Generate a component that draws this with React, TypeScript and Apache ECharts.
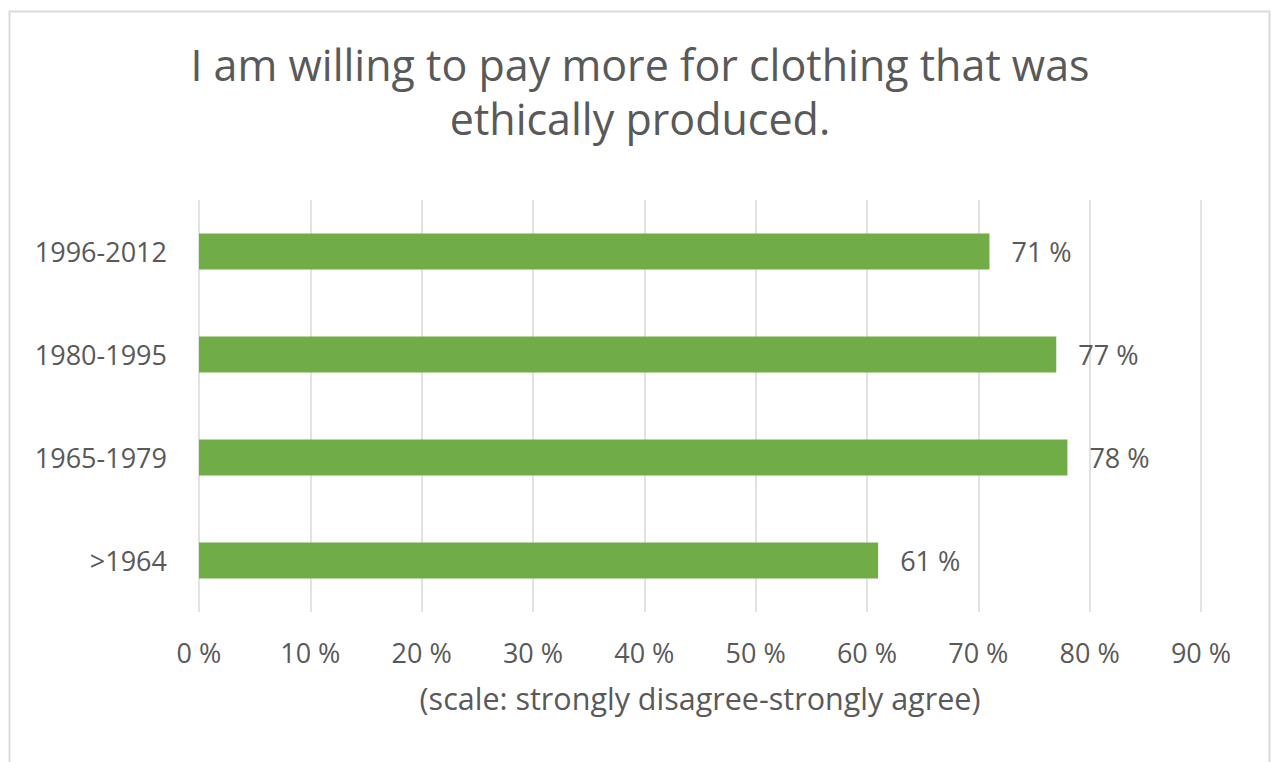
import React, { useEffect, useRef } from "react";
import * as echarts from "echarts";

const categories = [">1964", "1965-1979", "1980-1995", "1996-2012"];
const values = [61, 78, 77, 71];
const xTicks = [0, 10, 20, 30, 40, 50, 60, 70, 80, 90];
const titleText = "I am willing to pay more for clothing that was\nethically produced.";
const axisName = "(scale: strongly disagree-strongly agree)";

const FONT = "'Open Sans', sans-serif";
const TXT = "#595959";

export default function App() {
  const ref = useRef<HTMLDivElement>(null);
  useEffect(() => {
    const chart = echarts.init(ref.current!, null, { renderer: "svg" });
    chart.setOption({
      animation: false,
      backgroundColor: "#ffffff",
      textStyle: { fontFamily: FONT },
      title: {
        text: titleText,
        left: 640,
        top: 37,
        textAlign: "center",
        padding: 0,
        textStyle: { fontSize: 43, fontWeight: "normal", color: TXT, lineHeight: 54, fontFamily: FONT },
      },
      graphic: [
        {
          type: "rect",
          shape: { x: 9.5, y: 11.5, width: 1260, height: 770 },
          style: { fill: "none", stroke: "#d9d9d9", lineWidth: 2 },
          silent: true,
        },
      ],
      grid: { left: 199, right: 70, top: 200, bottom: 150 },
      xAxis: {
        type: "value",
        min: xTicks[0],
        max: xTicks[xTicks.length - 1],
        interval: 10,
        name: axisName,
        nameLocation: "middle",
        nameGap: 70,
        nameTextStyle: { fontSize: 30.5, color: TXT, fontFamily: FONT },
        axisLine: { show: false },
        axisTick: { show: false },
        axisLabel: {
          formatter: (v: number) => `${v} %`,
          fontSize: 27,
          color: TXT,
          margin: 27,
          fontFamily: FONT,
        },
        splitLine: { show: true, lineStyle: { color: "#d9d9d9", width: 1.5 } },
      },
      yAxis: {
        type: "category",
        data: categories,
        axisLine: { show: false },
        axisTick: { show: false },
        axisLabel: { fontSize: 27, color: TXT, margin: 32, fontFamily: FONT },
      },
      series: [
        {
          type: "bar",
          data: values,
          barWidth: 36,
          itemStyle: { color: "#70ad47" },
          label: {
            show: true,
            position: "right",
            distance: 22,
            formatter: (p: any) => `${p.value} %`,
            fontSize: 27,
            color: TXT,
            fontFamily: FONT,
          },
        },
      ],
    });
    return () => chart.dispose();
  }, []);
  return (
    <div
      ref={ref}
      style={{ position: "fixed", left: 0, top: 0, width: 1271, height: 762 }}
    />
  );
}
